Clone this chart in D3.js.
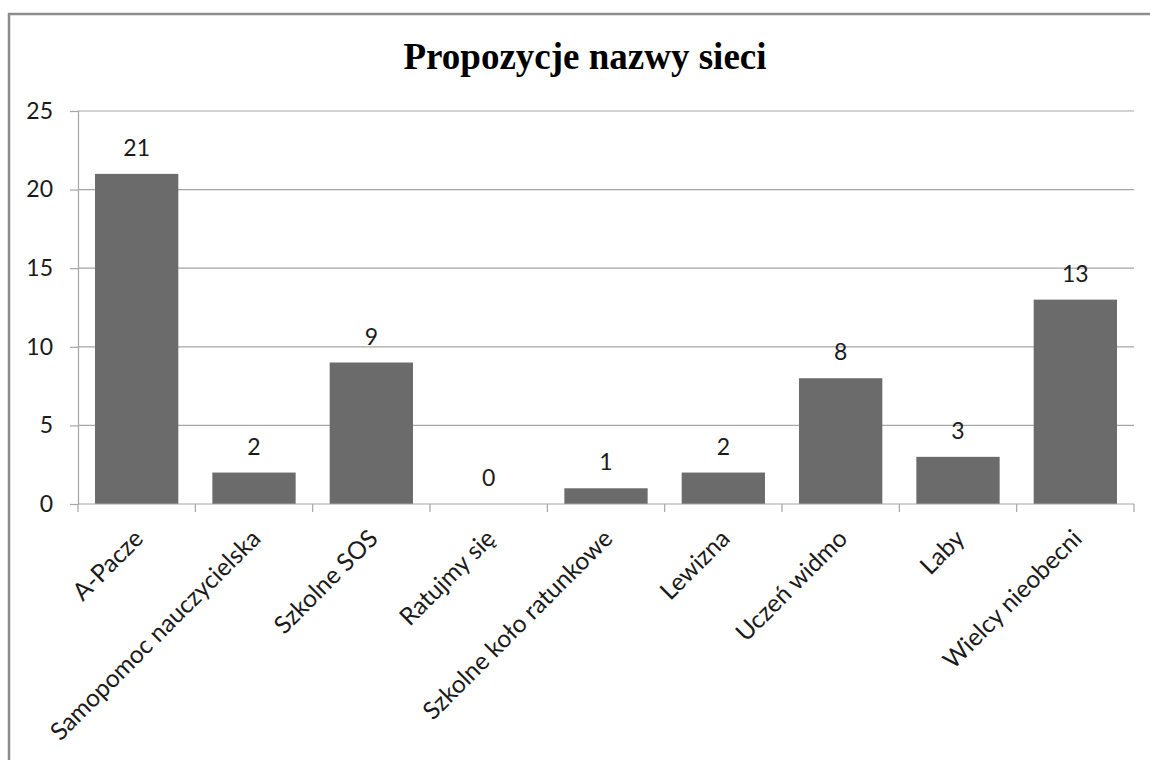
<!doctype html>
<html>
  <head>
    <meta charset="utf-8">
    <title>Propozycje nazwy sieci</title>
    <script src="https://cdnjs.cloudflare.com/ajax/libs/d3/7.8.5/d3.min.js"></script>
    <style>
      body { margin: 0; background: #fff; }
      svg { display: block; }
      text { font-family: Lato, "Open Sans", sans-serif; fill: #1a1a1a; }
    </style>
  </head>
  <body>
    <div id="chart"></div>
    <script>
      // data
      const categories = ["A-Pacze", "Samopomoc nauczycielska", "Szkolne SOS", "Ratujmy się",
        "Szkolne koło ratunkowe", "Lewizna", "Uczeń widmo", "Laby", "Wielcy nieobecni"];
      const counts = [21, 2, 9, 0, 1, 2, 8, 3, 13];
      const yTicks = [0, 5, 10, 15, 20, 25];
      const title = "Propozycje nazwy sieci";

      const width = 1150, height = 760;
      const margin = { top: 111, right: 16, bottom: 256, left: 78 };

      const svg = d3.select('#chart')
        .append('svg')
        .attr('width', width)
        .attr('height', height);

      // outer frame of the chart
      svg.append('rect')
        .attr('x', 9).attr('y', 14)
        .attr('width', width + 10).attr('height', height + 10)
        .attr('fill', 'none')
        .attr('stroke', '#8c8c8c')
        .attr('stroke-width', 2.5);

      svg.append('text')
        .attr('x', 585).attr('y', 69)
        .attr('text-anchor', 'middle')
        .style('font-family', '"Liberation Serif", "Times New Roman", serif')
        .style('font-weight', 'bold')
        .style('font-size', '37px')
        .style('fill', '#000')
        .text(title);

      const x = d3.scaleBand()
        .domain(categories)
        .range([margin.left, width - margin.right])
        .paddingInner(0.29)
        .paddingOuter(0.145);

      const y = d3.scaleLinear()
        .domain([0, 25])
        .range([height - margin.bottom, margin.top]);

      // gridlines
      svg.append('g')
        .selectAll('line')
        .data(yTicks.filter(d => d > 0))
        .join('line')
        .attr('x1', margin.left).attr('x2', width - margin.right)
        .attr('y1', d => y(d)).attr('y2', d => y(d))
        .attr('stroke', '#a6a6a6')
        .attr('stroke-width', 1.2);

      // y axis
      const yAxis = svg.append('g')
        .attr('transform', `translate(${margin.left},0)`)
        .call(d3.axisLeft(y).tickValues(yTicks).tickSize(8).tickPadding(17));
      yAxis.select('.domain').attr('stroke', '#a6a6a6').attr('stroke-width', 1.2);
      yAxis.selectAll('.tick line').attr('stroke', '#a6a6a6').attr('stroke-width', 1.2);
      yAxis.selectAll('.tick text')
        .style('font-family', 'Lato, sans-serif')
        .style('font-size', '23px')
        .attr('fill', '#1a1a1a');

      // bars
      svg.append('g')
        .selectAll('rect')
        .data(counts)
        .join('rect')
        .attr('x', (d, i) => x(categories[i]))
        .attr('y', d => y(d))
        .attr('width', x.bandwidth())
        .attr('height', d => y(0) - y(d))
        .attr('fill', '#6b6b6b');

      // value labels
      svg.append('g')
        .selectAll('text')
        .data(counts)
        .join('text')
        .attr('x', (d, i) => x(categories[i]) + x.bandwidth() / 2)
        .attr('y', d => y(d) - 18)
        .attr('text-anchor', 'middle')
        .style('font-size', '23px')
        .text(d => d);

      // x axis with ticks on category boundaries
      const x0 = y(0);
      const step = x.step();
      const boundaries = d3.range(categories.length + 1).map(i => margin.left + i * step);
      const xAxis = svg.append('g');
      xAxis.append('line')
        .attr('x1', margin.left).attr('x2', width - margin.right)
        .attr('y1', x0).attr('y2', x0)
        .attr('stroke', '#a6a6a6').attr('stroke-width', 1.2);
      xAxis.selectAll('line.tick')
        .data(boundaries)
        .join('line')
        .attr('class', 'tick')
        .attr('x1', d => d).attr('x2', d => d)
        .attr('y1', x0).attr('y2', x0 + 8)
        .attr('stroke', '#a6a6a6').attr('stroke-width', 1.2);

      xAxis.selectAll('text')
        .data(categories)
        .join('text')
        .attr('transform', d => `translate(${x(d) + x.bandwidth() / 2 + 2},${x0 + 30}) rotate(-45)`)
        .attr('text-anchor', 'end')
        .attr('dy', '0.35em')
        .style('font-size', '24.5px')
        .text(d => d);
    </script>
  </body>
</html>
